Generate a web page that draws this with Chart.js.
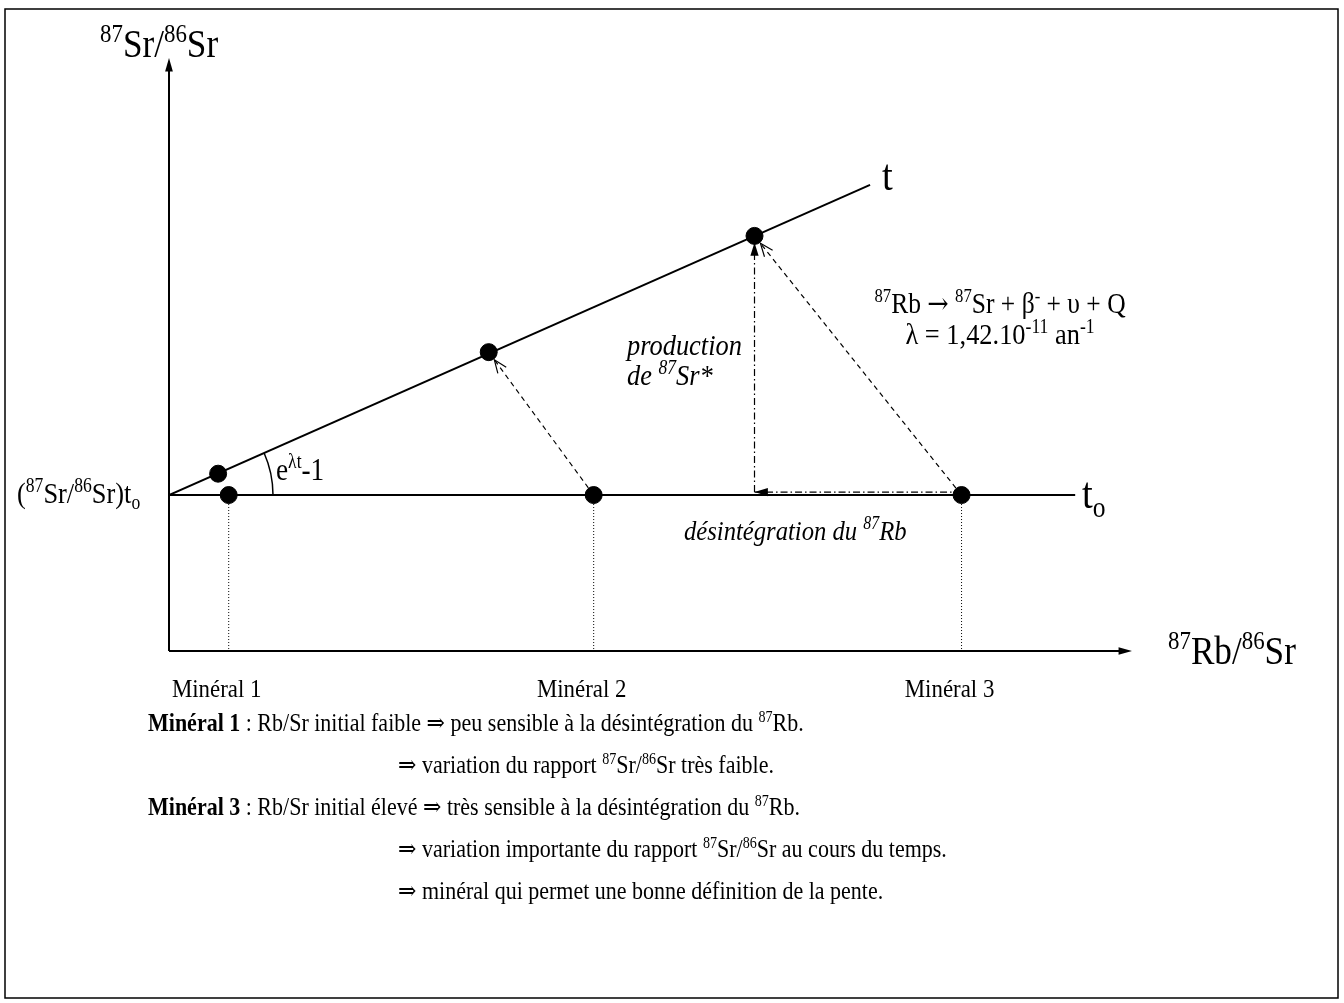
<!DOCTYPE html>
<html>
<head>
<meta charset="utf-8">
<script src="https://cdn.jsdelivr.net/npm/chart.js@4/dist/chart.umd.min.js"></script>
<style>
  html, body { margin: 0; padding: 0; background: #fff; }
  #wrap { width: 1344px; height: 1003px; }
</style>
</head>
<body>
<div id="wrap"><canvas id="isochrone" width="1344" height="1003"></canvas></div>
<script>
// values (x = 87Rb/86Sr, y = 87Sr/86Sr, arbitrary units)
const minerals = ['Minéral 1', 'Minéral 2', 'Minéral 3'];
const rbSrInitial = [0.62, 4.41, 8.23];
const srSrInitial = 2.63;
const rbSrNow = [0.51, 3.32, 6.08];
const srSrNow = [2.99, 5.04, 7.0];
const isochroneX = [0, 7.28];
const isochroneY = [2.63, 7.86];
const t0LineX = [0, 9.41];
const decayArrowY = 2.68;
const axisMax = { x: 10, y: 10 };

const FONT = "'Liberation Serif', 'Times New Roman', 'DejaVu Serif', serif";
const SX = 0.88; // the original lettering is a bit condensed
const dotR = 8.5;

const pts = (xs, ys) => xs.map((x, i) => ({ x, y: Array.isArray(ys) ? ys[i] : ys }));

const lineSet = (data, extra) => Object.assign({
  data,
  showLine: true,
  borderColor: '#000',
  borderWidth: 2,
  pointRadius: 0,
  fill: false,
}, extra);

const datasets = [
  { label: 'initial', data: pts(rbSrInitial, srSrInitial), pointRadius: dotR, backgroundColor: '#000', borderColor: '#000', showLine: false },
  { label: 'now', data: pts(rbSrNow, srSrNow), pointRadius: dotR, backgroundColor: '#000', borderColor: '#000', showLine: false },
  lineSet(pts(isochroneX, isochroneY), { label: 't' }),
  lineSet(pts(t0LineX, srSrInitial), { label: 't0' }),
];
rbSrInitial.forEach((x, i) => {
  datasets.push(lineSet([{ x, y: srSrInitial }, { x, y: 0 }], { label: 'drop' + i, borderWidth: 1, borderDash: [1, 2] }));
});
[1, 2].forEach((i) => {
  datasets.push(lineSet([{ x: rbSrInitial[i], y: srSrInitial }, { x: rbSrNow[i], y: srSrNow[i] }],
    { label: 'evol' + i, borderWidth: 1.2, borderDash: [5, 4] }));
});
datasets.push(lineSet([{ x: rbSrInitial[2], y: decayArrowY }, { x: rbSrNow[2], y: decayArrowY }],
  { label: 'decay', borderWidth: 1.2, borderDash: [7, 3, 1.5, 3] }));
datasets.push(lineSet([{ x: rbSrNow[2], y: decayArrowY }, { x: rbSrNow[2], y: srSrNow[2] }],
  { label: 'prod', borderWidth: 1.2, borderDash: [7, 3, 1.5, 3] }));

// rich text: parts = [text, kind, style, family]
function rich(ctx, x, y, parts, size, align) {
  const subSize = Math.round(size * 0.65);
  const setFont = (p) => {
    const s = p[1] ? subSize : size;
    ctx.font = `${p[2] || ''} ${s}px ${p[3] || FONT}`;
  };
  const measure = (p) => { setFont(p); return ctx.measureText(p[0]).width * SX; };
  const total = parts.reduce((a, p) => a + measure(p), 0);
  let cx = align === 'center' ? x - total / 2 : align === 'right' ? x - total : x;
  ctx.textAlign = 'left';
  ctx.textBaseline = 'alphabetic';
  parts.forEach((p) => {
    const w = measure(p);
    const dy = p[1] === 'sup' ? -size * 0.38 : p[1] === 'sub' ? size * 0.2 : 0;
    ctx.save();
    ctx.translate(cx, y + dy);
    ctx.scale(SX, 1);
    ctx.fillText(p[0], 0, 0);
    ctx.restore();
    cx += w;
  });
}

function arrowHead(ctx, tip, from, len, half, filled) {
  const a = Math.atan2(tip.y - from.y, tip.x - from.x);
  const p1 = { x: tip.x - len * Math.cos(a - half), y: tip.y - len * Math.sin(a - half) };
  const p2 = { x: tip.x - len * Math.cos(a + half), y: tip.y - len * Math.sin(a + half) };
  ctx.beginPath();
  if (filled) {
    ctx.moveTo(tip.x, tip.y); ctx.lineTo(p1.x, p1.y); ctx.lineTo(p2.x, p2.y); ctx.closePath(); ctx.fill();
  } else {
    ctx.moveTo(p1.x, p1.y); ctx.lineTo(tip.x, tip.y); ctx.lineTo(p2.x, p2.y); ctx.stroke();
  }
}

const IMPL = ' ⇒ ';
const implPart = ['⇒', '', '', "'DejaVu Serif', serif"];

const decor = {
  id: 'decor',
  beforeDraw(chart) {
    const ctx = chart.ctx;
    ctx.save();
    ctx.fillStyle = '#fff';
    ctx.fillRect(0, 0, chart.width, chart.height);
    ctx.restore();
  },
  afterDraw(chart) {
    const ctx = chart.ctx;
    const xs = chart.scales.x, ys = chart.scales.y;
    const px = (v) => xs.getPixelForValue(v);
    const py = (v) => ys.getPixelForValue(v);
    ctx.save();
    ctx.strokeStyle = '#000';
    ctx.fillStyle = '#000';

    // frame
    ctx.lineWidth = 1.5;
    ctx.strokeRect(5, 9, 1333, 989);

    // axes with arrows
    const ox = px(0), oy = py(0);
    ctx.lineWidth = 2;
    ctx.beginPath();
    ctx.moveTo(ox, oy); ctx.lineTo(ox, py(axisMax.y) + 4);
    ctx.moveTo(ox, oy); ctx.lineTo(px(axisMax.x) - 4, oy);
    ctx.stroke();
    arrowHead(ctx, { x: ox, y: py(axisMax.y) }, { x: ox, y: oy }, 14, 0.28, true);
    arrowHead(ctx, { x: px(axisMax.x), y: oy }, { x: ox, y: oy }, 14, 0.28, true);

    // open arrowheads of the evolution arrows
    ctx.lineWidth = 1.2;
    [1, 2].forEach((i) => {
      const a = { x: px(rbSrInitial[i]), y: py(srSrInitial) };
      const b = { x: px(rbSrNow[i]), y: py(srSrNow[i]) };
      const d = Math.hypot(a.x - b.x, a.y - b.y);
      const tip = { x: b.x + (a.x - b.x) / d * (dotR + 1), y: b.y + (a.y - b.y) / d * (dotR + 1) };
      arrowHead(ctx, tip, a, 14, 0.38, false);
    });
    // filled arrowheads of decay / production
    const cx3 = px(rbSrNow[2]), dy = py(decayArrowY);
    arrowHead(ctx, { x: cx3, y: dy }, { x: px(rbSrInitial[2]), y: dy }, 14, 0.3, true);
    arrowHead(ctx, { x: cx3, y: py(srSrNow[2]) + dotR - 2 }, { x: cx3, y: dy }, 14, 0.3, true);

    // angle arc
    const o = { x: px(0), y: py(srSrInitial) };
    const ang = Math.atan2(py(isochroneY[1]) - o.y, px(isochroneX[1]) - o.x);
    ctx.lineWidth = 1.5;
    ctx.beginPath();
    ctx.arc(o.x, o.y, 104, ang, 0);
    ctx.stroke();

    // texts
    rich(ctx, 100, 57, [['87', 'sup'], ['Sr/'], ['86', 'sup'], ['Sr']], 40);
    rich(ctx, 1168, 664, [['87', 'sup'], ['Rb/'], ['86', 'sup'], ['Sr']], 40);
    rich(ctx, 882, 190, [['t']], 44);
    rich(ctx, 1082, 508, [['t'], ['o', 'sub']], 44);
    rich(ctx, 17, 503, [['('], ['87', 'sup'], ['Sr/'], ['86', 'sup'], ['Sr)t'], ['o', 'sub']], 30);
    rich(ctx, 276, 480, [['e'], ['λt', 'sup'], ['-1']], 31);
    rich(ctx, 1000, 313, [['87', 'sup'], ['Rb '], ['→', '', '', "'DejaVu Serif', serif"], [' '], ['87', 'sup'], ['Sr + β'], ['-', 'sup'], [' + υ + Q']], 29, 'center');
    rich(ctx, 1000, 344, [['λ = 1,42.10'], ['-11', 'sup'], [' an'], ['-1', 'sup']], 30, 'center');
    rich(ctx, 627, 355, [['production', '', 'italic']], 30);
    rich(ctx, 627, 385, [['de ', '', 'italic'], ['87', 'sup', 'italic'], ['Sr*', '', 'italic']], 30);
    rich(ctx, 684, 540, [['désintégration du ', '', 'italic'], ['87', 'sup', 'italic'], ['Rb', '', 'italic']], 28);

    minerals.forEach((m, i) => {
      rich(ctx, px(rbSrInitial[i]) - 12, 697, [[m]], 26, 'center');
    });

    const L = 148, R = 398;
    rich(ctx, L, 731, [['Minéral 1', '', 'bold'], [' : Rb/Sr initial faible '], implPart, [' peu sensible à la désintégration du '], ['87', 'sup'], ['Rb.']], 25);
    rich(ctx, R, 773, [implPart, [' variation du rapport '], ['87', 'sup'], ['Sr/'], ['86', 'sup'], ['Sr très faible.']], 25);
    rich(ctx, L, 815, [['Minéral 3', '', 'bold'], [' : Rb/Sr initial élevé '], implPart, [' très sensible à la désintégration du '], ['87', 'sup'], ['Rb.']], 25);
    rich(ctx, R, 857, [implPart, [' variation importante du rapport '], ['87', 'sup'], ['Sr/'], ['86', 'sup'], ['Sr au cours du temps.']], 25);
    rich(ctx, R, 899, [implPart, [' minéral qui permet une bonne définition de la pente.']], 25);
    ctx.restore();
  },
};

new Chart(document.getElementById('isochrone'), {
  type: 'scatter',
  data: { datasets },
  options: {
    responsive: false,
    animation: false,
    devicePixelRatio: 1,
    layout: { padding: { left: 169, right: 212, top: 58, bottom: 352 } },
    plugins: { legend: { display: false }, tooltip: { enabled: false } },
    scales: {
      x: { type: 'linear', min: 0, max: axisMax.x, display: false },
      y: { type: 'linear', min: 0, max: axisMax.y, display: false },
    },
  },
  plugins: [decor],
});
</script>
</body>
</html>
